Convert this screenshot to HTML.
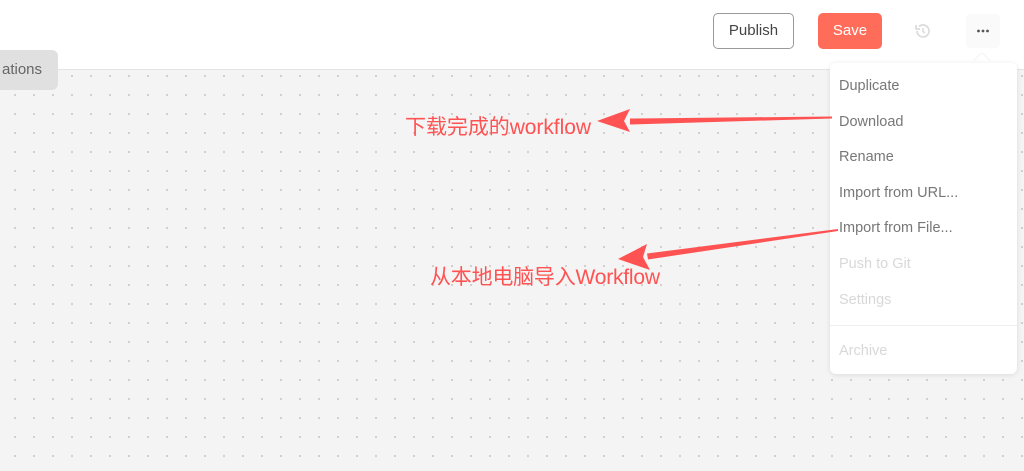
<!DOCTYPE html>
<html><head><meta charset="utf-8"><style>
*{margin:0;padding:0;box-sizing:border-box}
body{width:1024px;height:471px;overflow:hidden;position:relative;background:#fff;font-family:"Liberation Sans",Arial,sans-serif}
.canvas{position:absolute;left:0;top:69px;width:1024px;height:402px;background-color:#f4f4f4;border-top:1px solid #e4e4e4;
background-image:radial-gradient(circle,#bdbdbd 0.7px,transparent 1.1px);background-size:19px 19px;background-position:5.5px -3.5px}
.tab{position:absolute;left:-10px;top:50px;width:68px;height:40px;background:#e0e0e0;border-radius:6px;font-size:15px;color:#666;line-height:40px;padding-left:12px}
.btn{position:absolute;top:13px;height:36px;border-radius:5px;font-size:15px;line-height:34px;text-align:center}
.menu{position:absolute;left:830px;top:63px;width:187px;height:311px;background:#fff;border-radius:6px;box-shadow:0 1px 6px rgba(0,0,0,.1)}
.menu div{position:absolute;left:9px;font-size:14.5px;color:#777}
.menu .d{color:#d8d8d8}
</style></head><body>
<div class="canvas"></div>
<div class="tab">ations</div>
<div class="btn" style="left:713px;width:81px;border:1.5px solid #9a9a9a;color:#444;background:#fff">Publish</div>
<div class="btn" style="left:818px;width:64px;background:#ff6d5a;color:#fff;line-height:36px">Save</div>
<svg style="position:absolute;left:914px;top:22px" width="18" height="18" viewBox="0 0 18 18"><path d="M3 9a6 6 0 1 0 2-4.5" fill="none" stroke="#ddd" stroke-width="1.8"/><path d="M2 3v4h4" fill="none" stroke="#ddd" stroke-width="1.8"/><path d="M9 6v3.5l2 1.5" fill="none" stroke="#ddd" stroke-width="1.6"/></svg>
<div style="position:absolute;left:966px;top:14px;width:34px;height:34px;background:#fafafa;border-radius:4px"></div>
<svg style="position:absolute;left:966px;top:14px" width="34" height="34"><circle cx="12.5" cy="17" r="1.4" fill="#555"/><circle cx="17" cy="17" r="1.4" fill="#555"/><circle cx="21.5" cy="17" r="1.4" fill="#555"/></svg>
<div style="position:absolute;left:976px;top:56px;width:12px;height:12px;background:#fff;transform:rotate(45deg);box-shadow:-1px -1px 2px rgba(0,0,0,.06)"></div>
<div class="menu">
<div style="top:15px">Duplicate</div>
<div style="top:51px">Download</div>
<div style="top:86px">Rename</div>
<div style="top:122px">Import from URL...</div>
<div style="top:157px">Import from File...</div>
<div class="d" style="top:193px">Push to Git</div>
<div class="d" style="top:229px">Settings</div>
<div style="top:262px;left:0;width:187px;height:1px;background:#eee"></div>
<div class="d" style="top:280px">Archive</div>
</div>
<svg style="position:absolute;left:0;top:0" width="1024" height="471">
<polygon points="832,116.5 630,118.5 630,124.5 832,118.5" fill="#ff5252"/>
<polygon points="597,121 630,109 624,121 630,132" fill="#ff5252"/>
<polygon points="838,229 647,253.5 648,259.5 838,231" fill="#ff5252"/>
<polygon points="618,259 647,244 643,257 650,270" fill="#ff5252"/>
<text x="405" y="134" font-size="21" fill="#ff5252" font-family="Liberation Sans,Noto Sans CJK SC,sans-serif" textLength="186">下载完成的workflow</text>
<text x="430" y="284" font-size="21" fill="#ff5252" font-family="Liberation Sans,Noto Sans CJK SC,sans-serif" textLength="230">从本地电脑导入Workflow</text>
</svg>
</body></html>
